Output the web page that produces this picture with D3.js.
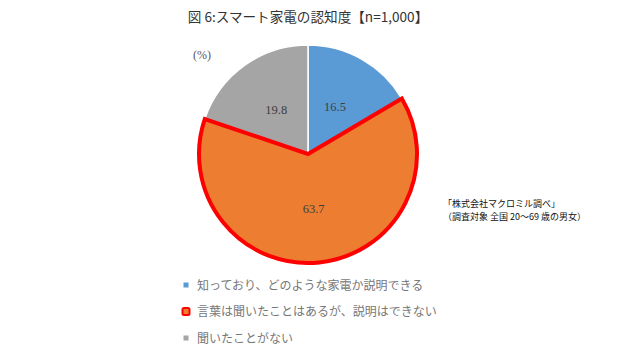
<!DOCTYPE html>
<html>
<head>
<meta charset="utf-8">
<script src="https://cdn.jsdelivr.net/npm/d3@7"></script>
<style>
  body { margin: 0; background: #fff; }
  svg { display: block; font-family: "Noto Sans CJK JP", sans-serif; }
</style>
</head>
<body>
<div id="chart"></div>
<script>
const categories = ["知っており、どのような家電か説明できる", "言葉は聞いたことはあるが、説明はできない", "聞いたことがない"];
const values = [16.5, 63.7, 19.8];
const colors = ["#5B9BD5", "#ED7D31", "#A5A5A5"];
const highlighted = 1;
const title = "図 6:スマート家電の認知度【n=1,000】";
const sourceLines = ["「株式会社マクロミル調べ」", "（調査対象  全国 20～69 歳の男女）"];

const width = 643, height = 352;
const cx = 308, cy = 154, radius = 109;

const svg = d3.select("#chart").append("svg")
    .attr("width", width)
    .attr("height", height);

svg.append("text")
    .attr("x", 308)
    .attr("y", 22)
    .attr("text-anchor", "middle")
    .attr("font-size", 13.6)
    .attr("fill", "#333")
    .text(title);

svg.append("text")
    .attr("x", 202)
    .attr("y", 59)
    .attr("text-anchor", "middle")
    .attr("font-family", "'Liberation Serif', serif")
    .attr("font-size", 12)
    .attr("fill", "#595959")
    .text("(%)");

const pie = d3.pie().sort(null).value(d => d)(values);
const arc = d3.arc().innerRadius(0).outerRadius(radius);

const g = svg.append("g").attr("transform", `translate(${cx},${cy})`);

g.selectAll("path.slice")
    .data(pie)
    .join("path")
    .attr("class", "slice")
    .attr("d", arc)
    .attr("fill", (d, i) => colors[i])
    .attr("stroke", "#fff")
    .attr("stroke-width", 1.5);

// highlighted slice drawn on top with thick red border
g.append("path")
    .attr("d", arc(pie[highlighted]))
    .attr("fill", colors[highlighted])
    .attr("stroke", "#FF0000")
    .attr("stroke-width", 4)
    .attr("stroke-linejoin", "miter");

const labelArc = d3.arc().innerRadius(radius * 0.5).outerRadius(radius * 0.5);
g.selectAll("text.val")
    .data(pie)
    .join("text")
    .attr("class", "val")
    .attr("transform", d => `translate(${labelArc.centroid(d)})`)
    .attr("text-anchor", "middle")
    .attr("dy", "0.35em")
    .attr("font-family", "'Liberation Serif', serif")
    .attr("font-size", 12.5)
    .attr("fill", "#404040")
    .text(d => d.data.toFixed(1));

svg.selectAll("text.src")
    .data(sourceLines)
    .join("text")
    .attr("class", "src")
    .attr("x", 443)
    .attr("y", (d, i) => 207 + i * 13)
    .attr("font-size", 9)
    .attr("fill", "#111")
    .text(d => d);

const legend = svg.append("g").attr("transform", "translate(186,285)");
const item = legend.selectAll("g")
    .data(categories)
    .join("g")
    .attr("transform", (d, i) => `translate(0,${i * 26.5})`);

item.append("rect")
    .attr("x", (d, i) => i === highlighted ? -3.5 : -2.5)
    .attr("y", (d, i) => i === highlighted ? -3.5 : -2.5)
    .attr("width", (d, i) => i === highlighted ? 7 : 5)
    .attr("height", (d, i) => i === highlighted ? 7 : 5)
    .attr("rx", (d, i) => i === highlighted ? 1.5 : 0)
    .attr("fill", (d, i) => colors[i])
    .attr("stroke", (d, i) => i === highlighted ? "#FF0000" : "none")
    .attr("stroke-width", 2);

item.append("text")
    .attr("x", 11)
    .attr("dy", "0.38em")
    .attr("font-size", 12)
    .attr("fill", "#777")
    .text(d => d);
</script>
</body>
</html>
